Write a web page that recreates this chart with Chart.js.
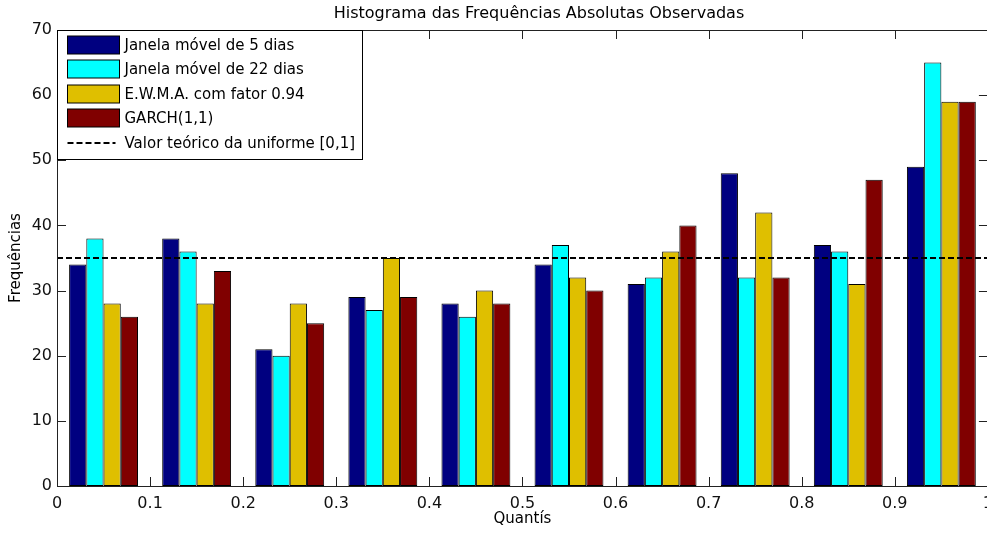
<!DOCTYPE html>
<html>
<head>
<meta charset="utf-8">
<title>Histograma das Frequências Absolutas Observadas</title>
<script src="https://cdn.jsdelivr.net/npm/chart.js@4.4.1/dist/chart.umd.min.js"></script>
<style>
    html, body { margin: 0; padding: 0; background: #fff; overflow: hidden; }
    #wrap { width: 1001px; height: 533px; }
</style>
</head>
<body>
<div id="wrap"><canvas id="histChart" width="1001" height="533"></canvas></div>
<script>
// --------- Data --------
const binCenters = [0.05, 0.15, 0.25, 0.35, 0.45, 0.55, 0.65, 0.75, 0.85, 0.95];
const janela5 = [34, 38, 21, 29, 28, 34, 31, 48, 37, 49];
const janela22 = [38, 36, 20, 27, 26, 37, 32, 32, 36, 65];
const ewma094 = [28, 28, 28, 35, 30, 32, 36, 42, 31, 59];
const garch11 = [26, 33, 25, 29, 28, 30, 40, 32, 47, 59];
const valorTeorico = 35;
const xTicks = [0, 0.1, 0.2, 0.3, 0.4, 0.5, 0.6, 0.7, 0.8, 0.9, 1];
const yTicks = [0, 10, 20, 30, 40, 50, 60, 70];

const FONT = '"DejaVu Sans", "Liberation Sans", Arial, sans-serif';
Chart.defaults.font.family = FONT;
Chart.defaults.color = '#000';

// pair bin centers with counts
const toPoints = (values) => values.map((v, i) => ({ x: binCenters[i], y: v }));

// --------- Plugins --------

// MATLAB style box with inward ticks on all four sides
const matlabAxes = {
    id: 'matlabAxes',
    afterDatasetsDraw(chart) {
        const { ctx, chartArea: a, scales } = chart;
        const len = 9;
        ctx.save();
        ctx.strokeStyle = '#222';
        ctx.lineWidth = 1;
        ctx.beginPath();
        xTicks.forEach((v) => {
            const px = Math.round(scales.x.getPixelForValue(v)) + 0.5;
            ctx.moveTo(px, a.bottom);
            ctx.lineTo(px, a.bottom - len);
            ctx.moveTo(px, a.top);
            ctx.lineTo(px, a.top + len);
        });
        yTicks.forEach((v) => {
            const py = Math.round(scales.y.getPixelForValue(v)) + 0.5;
            ctx.moveTo(a.left, py);
            ctx.lineTo(a.left + len, py);
            ctx.moveTo(a.right, py);
            ctx.lineTo(a.right - len, py);
        });
        ctx.stroke();
        ctx.strokeRect(Math.round(a.left) + 0.5, Math.round(a.top) + 0.5,
            Math.round(a.right - a.left), Math.round(a.bottom - a.top));
        ctx.restore();
    }
};

// boxed legend in the upper left corner + title
const matlabLegend = {
    id: 'matlabLegend',
    afterDraw(chart) {
        const { ctx, chartArea: a } = chart;
        const x0 = Math.round(a.left) + 0.5;
        const y0 = Math.round(a.top) + 0.5;
        const w = 305, h = 129;

        ctx.save();
        ctx.fillStyle = '#fff';
        ctx.fillRect(x0, y0, w, h);
        ctx.strokeStyle = '#000';
        ctx.lineWidth = 1;
        ctx.strokeRect(x0, y0, w, h);

        ctx.font = '15px ' + FONT;
        ctx.textBaseline = 'middle';
        ctx.textAlign = 'left';
        chart.data.datasets.forEach((ds, i) => {
            const cy = Math.round(y0 + 14 + i * 24.5);
            if (ds.type === 'line') {
                ctx.beginPath();
                ctx.setLineDash(ds.borderDash);
                ctx.lineWidth = ds.borderWidth;
                ctx.strokeStyle = ds.borderColor;
                ctx.moveTo(x0 + 10, cy);
                ctx.lineTo(x0 + 58, cy);
                ctx.stroke();
                ctx.setLineDash([]);
            } else {
                ctx.fillStyle = ds.backgroundColor;
                ctx.fillRect(x0 + 10, cy - 9, 52, 18);
                ctx.lineWidth = 1;
                ctx.strokeStyle = '#000';
                ctx.strokeRect(x0 + 10, cy - 9, 52, 18);
            }
            ctx.fillStyle = '#000';
            ctx.fillText(ds.label, x0 + 67, cy + 1);
        });

        // title
        ctx.font = '16px ' + FONT;
        ctx.textAlign = 'center';
        ctx.fillText('Histograma das Frequências Absolutas Observadas', 539, 14);
        ctx.restore();
    }
};

// --------- Chart --------
const barStyle = { borderColor: '#000', borderWidth: 1, borderSkipped: false, order: 1 };

new Chart(document.getElementById('histChart'), {
    type: 'bar',
    data: {
        datasets: [
            { label: 'Janela móvel de 5 dias', data: toPoints(janela5), backgroundColor: '#000080', ...barStyle },
            { label: 'Janela móvel de 22 dias', data: toPoints(janela22), backgroundColor: '#00ffff', ...barStyle },
            { label: 'E.W.M.A. com fator 0.94', data: toPoints(ewma094), backgroundColor: '#dfbf00', ...barStyle },
            { label: 'GARCH(1,1)', data: toPoints(garch11), backgroundColor: '#800000', ...barStyle },
            {
                type: 'line',
                label: 'Valor teórico da uniforme [0,1]',
                data: [{ x: 0, y: valorTeorico }, { x: 1, y: valorTeorico }],
                borderColor: '#000',
                borderWidth: 2,
                borderDash: [6, 3],
                pointRadius: 0,
                fill: false,
                order: 0
            }
        ]
    },
    options: {
        responsive: false,
        animation: false,
        devicePixelRatio: 1,
        categoryPercentage: 0.74,
        barPercentage: 1.0,
        layout: { padding: { top: 30, right: 4, left: 0, bottom: 0 } },
        plugins: {
            legend: { display: false },
            title: { display: false },
            tooltip: { enabled: false }
        },
        scales: {
            x: {
                type: 'linear',
                offset: false,
                min: 0,
                max: 1,
                grid: { display: false, drawTicks: false },
                border: { display: false },
                afterBuildTicks: (scale) => { scale.ticks = xTicks.map((v) => ({ value: v })); },
                afterFit: (scale) => { scale.height = 47; },
                ticks: {
                    autoSkip: false,
                    maxRotation: 0,
                    padding: 8,
                    color: '#111',
                    font: { size: 16 },
                    callback: (v) => String(v)
                },
                title: {
                    display: true,
                    text: 'Quantís',
                    font: { size: 15 },
                    padding: { top: 0, bottom: 5 }
                }
            },
            y: {
                min: 0,
                max: 70,
                grid: { display: false, drawTicks: false },
                border: { display: false },
                afterBuildTicks: (scale) => { scale.ticks = yTicks.map((v) => ({ value: v })); },
                afterFit: (scale) => { scale.width = 57; },
                ticks: {
                    padding: 5,
                    color: '#111',
                    font: { size: 16 }
                },
                title: {
                    display: true,
                    text: 'Frequências',
                    font: { size: 15 },
                    padding: { top: 7, bottom: 0 }
                }
            }
        }
    },
    plugins: [matlabAxes, matlabLegend]
});
</script>
</body>
</html>
